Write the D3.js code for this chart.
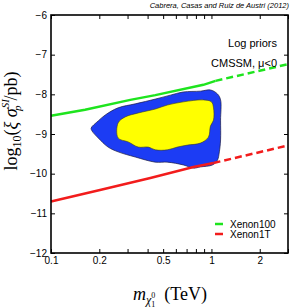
<!DOCTYPE html>
<meta charset="utf-8">
<style>
body { margin: 0; background: #fff; }
svg { display: block; font-family: "Liberation Sans", Arial, sans-serif; }
.axis text { font-size: 10px; fill: #000; }
.axis path { display: none; }
.axis line { stroke: #000; stroke-width: 1; }
.serif { font-family: "Liberation Serif", "Times New Roman", serif; }
</style>
<svg width="291" height="308"></svg>
<script src="https://d3js.org/d3.v7.min.js"></script>
<script>

// mass in TeV, log10(xi sigma / pb)
var xenon100Solid = [[0.1, -8.54], [0.163, -8.39], [0.312, -8.14], [0.447, -8.02], [0.891, -7.76], [1.06, -7.66]];
var xenon100Dash  = [[1.06, -7.66], [3.0, -7.24]];
var xenon1tSolid  = [[0.1, -10.70], [0.202, -10.41], [0.416, -10.11], [0.772, -9.83], [1.03, -9.73]];
var xenon1tDash   = [[1.03, -9.73], [3.0, -9.29]];

var blueRegion = [[0.178, -8.85], [0.197, -8.67], [0.218, -8.52], [0.262, -8.34], [0.335, -8.24],
  [0.447, -8.12], [0.555, -8.02], [0.668, -7.94], [0.853, -7.92], [0.986, -7.89], [1.09, -7.99],
  [1.14, -8.14], [1.14, -8.65], [1.14, -9.15], [1.12, -9.45], [1.09, -9.66], [1.015, -9.78],
  [0.853, -9.83], [0.772, -9.86], [0.668, -9.78], [0.531, -9.71], [0.447, -9.71], [0.335, -9.58],
  [0.262, -9.45], [0.227, -9.33], [0.197, -9.10], [0.180, -8.92]];

var yellowRegion = [[0.262, -8.72], [0.290, -8.57], [0.350, -8.47], [0.447, -8.37], [0.531, -8.27],
  [0.668, -8.19], [0.891, -8.14], [1.0, -8.19], [1.03, -8.34], [1.03, -8.65], [0.986, -8.80],
  [0.957, -9.08], [0.853, -9.23], [0.708, -9.28], [0.613, -9.33], [0.531, -9.40], [0.447, -9.40],
  [0.404, -9.33], [0.350, -9.33], [0.303, -9.20], [0.262, -9.10]];

var xTicks = [0.1, 0.2, 0.3, 0.4, 0.5, 0.6, 0.7, 0.8, 0.9, 1, 2, 3];
var xLabels = [0.1, 0.2, 0.5, 1, 2];
var yTicks = [-12, -11, -10, -9, -8, -7, -6];

var legendNames = ["Xenon100", "Xenon1T"];
var legendColors = ["#1ee41e", "#f21c1c"];

var svg = d3.select("svg");
var pLeft = 51, pRight = 288, pTop = 15, pBottom = 253;

var x = d3.scaleLog().domain([0.1, 3]).range([pLeft, pRight]);
var y = d3.scaleLinear().domain([-12, -6]).range([pBottom, pTop]);

var line = d3.line().x(d => x(d[0])).y(d => y(d[1]));
var blob = d3.line().x(d => x(d[0])).y(d => y(d[1])).curve(d3.curveCatmullRomClosed.alpha(0.5));

// regions
svg.append("path").attr("d", blob(blueRegion))
    .attr("fill", "#1c3cf4").attr("stroke", "#1a1a40").attr("stroke-width", 0.7);
svg.append("path").attr("d", blob(yellowRegion))
    .attr("fill", "#ffff00").attr("stroke", "#3a3a20").attr("stroke-width", 0.6);

// limits
function limit(data, color, dashed) {
  svg.append("path").attr("d", line(data))
      .attr("fill", "none").attr("stroke", color).attr("stroke-width", 2.5)
      .attr("stroke-dasharray", dashed ? "7,4" : null);
}
limit(xenon100Solid, legendColors[0], false);
limit(xenon100Dash, legendColors[0], true);
limit(xenon1tSolid, legendColors[1], false);
limit(xenon1tDash, legendColors[1], true);

// axes, ticks pointing inwards
var fmtX = d => xLabels.indexOf(d) >= 0 ? String(d) : "";
svg.append("g").attr("class", "axis").attr("transform", "translate(0," + pBottom + ")")
    .call(d3.axisBottom(x).tickValues(xTicks).tickFormat(fmtX).tickSize(-4).tickPadding(4));
svg.append("g").attr("class", "axis").attr("transform", "translate(0," + pTop + ")")
    .call(d3.axisTop(x).tickValues(xTicks).tickFormat("").tickSize(-4));
svg.append("g").attr("class", "axis").attr("transform", "translate(" + pLeft + ",0)")
    .call(d3.axisLeft(y).tickValues(yTicks).tickFormat(d3.format("d")).tickSize(-4).tickPadding(4));
svg.append("g").attr("class", "axis").attr("transform", "translate(" + pRight + ",0)")
    .call(d3.axisRight(y).tickValues(yTicks).tickFormat("").tickSize(-4));

svg.append("rect").attr("x", pLeft).attr("y", pTop)
    .attr("width", pRight - pLeft).attr("height", pBottom - pTop)
    .attr("fill", "none").attr("stroke", "#000").attr("stroke-width", 1.6);

// texts
svg.append("text").attr("x", 289).attr("y", 8).attr("text-anchor", "end")
    .attr("font-size", 7.5).attr("font-style", "italic")
    .text("Cabrera, Casas and Ruiz de Austri (2012)");
svg.append("text").attr("x", 277).attr("y", 47).attr("text-anchor", "end")
    .attr("font-size", 11).text("Log priors");
svg.append("text").attr("x", 277).attr("y", 67).attr("text-anchor", "end")
    .attr("font-size", 11).text("CMSSM, \u03bc<0");

// legend
var leg = svg.append("g").selectAll("g").data(legendNames).join("g")
    .attr("transform", (d, i) => "translate(0," + (224 + i * 10) + ")");
leg.append("line").attr("x1", 215).attr("x2", 223)
    .attr("stroke", (d, i) => legendColors[i]).attr("stroke-width", 2.5);
leg.append("text").attr("x", 230).attr("y", 3.8).attr("font-size", 10).text(d => d);

// x title
var xt = svg.append("text").attr("class", "serif").attr("x", 170).attr("y", 300)
    .attr("text-anchor", "middle").attr("font-size", 18);
xt.append("tspan").attr("font-style", "italic").text("m");
xt.append("tspan").attr("font-style", "italic").attr("font-size", 12).attr("dy", 4).text("\u03c7");
xt.append("tspan").attr("font-size", 8).attr("dy", 3).text("1");
xt.append("tspan").attr("font-size", 8).attr("dx", -4).attr("dy", -9).text("0");
xt.append("tspan").attr("dy", 2).text("\u2002(TeV)");

// y title
var yt = svg.append("text").attr("class", "serif")
    .attr("transform", "translate(17,121) rotate(-90)")
    .attr("text-anchor", "middle").attr("font-size", 18);
yt.append("tspan").text("log");
yt.append("tspan").attr("font-size", 12).attr("dy", 4).text("10");
yt.append("tspan").attr("dy", -4).text("(");
yt.append("tspan").attr("font-style", "italic").text("\u03be \u03c3");
yt.append("tspan").attr("font-size", 11).attr("font-style", "italic").attr("dy", -8).text("SI");
yt.append("tspan").attr("font-size", 11).attr("font-style", "italic").attr("dx", -12).attr("dy", 12).text("p");
yt.append("tspan").attr("dx", 5).attr("dy", -4).text("/pb)");

</script>
